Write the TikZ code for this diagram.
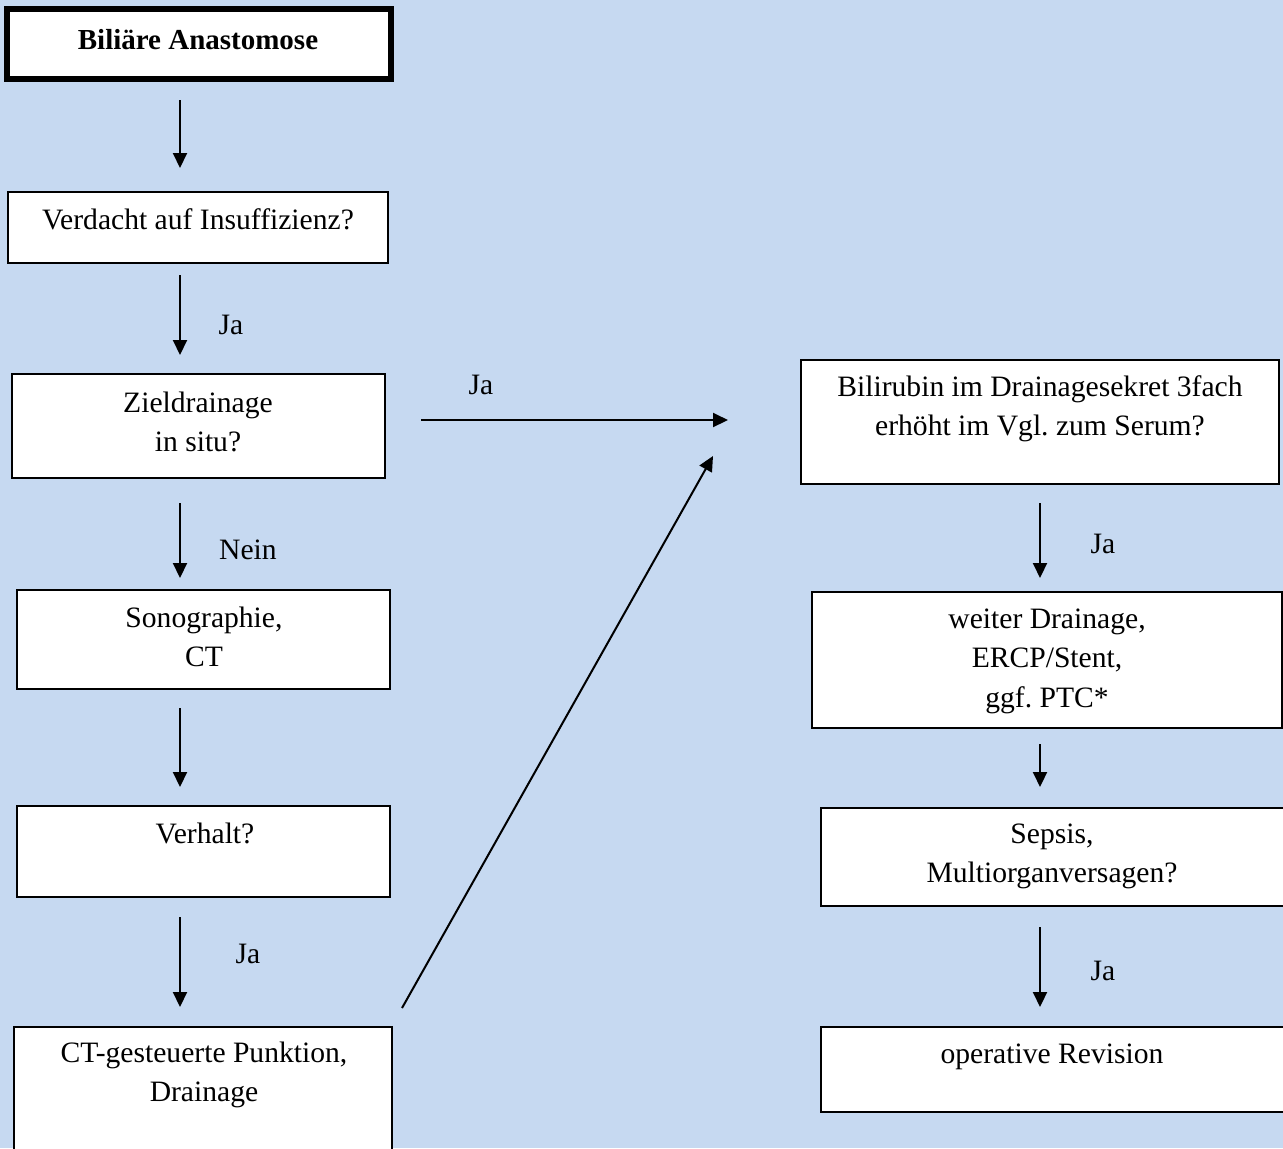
\documentclass[tikz,border=0pt]{standalone}
\usepackage{fontspec}
\setmainfont{Liberation Serif}
\usetikzlibrary{arrows.meta,fit}
\definecolor{bgblue}{RGB}{198,217,241}
\frenchspacing
\begin{document}
\begin{tikzpicture}[x=0.5pt,y=-0.5pt,
  box/.style={draw=black,fill=white,line width=0.9pt,inner sep=0pt,outer sep=0pt},
  thickbox/.style={box,line width=3pt},
  txt/.style={anchor=base,inner sep=0pt,font=\fontsize{14.8pt}{19.75pt}\selectfont\frenchspacing},
  lbl/.style={anchor=base,inner sep=0pt,font=\fontsize{14.8pt}{19.75pt}\selectfont},
  arr/.style={line width=1pt,-{Triangle[length=7.5pt,width=7pt]}}]
\useasboundingbox (0,0) rectangle (1283,1148);
\clip (0,0) rectangle (1283,1148);
\fill[bgblue] (0,0) rectangle (1283,1148);
% boxes
\node[thickbox,fit={(7,9) (390.5,79)}] (b1) {};
\node[box,fit={(8,192) (388,263)}] (b2) {};
\node[box,fit={(12,374) (385,478)}] (b3) {};
\node[box,fit={(17,590) (390,689)}] (b4) {};
\node[box,fit={(17,806) (390,897)}] (b5) {};
\node[box,fit={(14,1027) (392,1180)}] (b6) {};
\node[box,fit={(801,360) (1279,484)}] (b7) {};
\node[box,fit={(812,592) (1282,728)}] (b8) {};
\node[box,fit={(821,808) (1286,906)}] (b9) {};
\node[box,fit={(821,1027) (1286,1112)}] (b10) {};
% texts
\node[txt,font=\fontsize{14.5pt}{19.75pt}\selectfont] (t1) at (198,49) {\bfseries Biliäre Anastomose};
\node[txt] (t2) at (198,229) {Verdacht auf Insuffizienz?};
\node[txt] (t3) at (198,412) {\parbox[t]{240pt}{\centering Zieldrainage\\in situ?}};
\node[txt] (t4) at (204,627) {\parbox[t]{240pt}{\centering Sonographie,\\CT}};
\node[txt] (t5) at (205,843) {Verhalt?};
\node[txt] (t6) at (204,1062) {\parbox[t]{240pt}{\centering CT-gesteuerte Punktion,\\Drainage}};
\node[txt] (t7) at (1040,396) {\parbox[t]{300pt}{\centering Bilirubin im Drainagesekret 3fach\\erhöht im Vgl. zum Serum?}};
\node[txt] (t8) at (1047,628) {\parbox[t]{300pt}{\centering weiter Drainage,\\ERCP/Stent,\\ggf. PTC*}};
\node[txt] (t9) at (1052,843) {\parbox[t]{300pt}{\centering Sepsis,\\Multiorganversagen?}};
\node[txt] (t10) at (1052,1063) {operative Revision};
% arrow end points
\coordinate (a1s) at (180,100);  \coordinate (a1e) at (180,168);
\coordinate (a2s) at (180,275);  \coordinate (a2e) at (180,355);
\coordinate (a3s) at (180,503);  \coordinate (a3e) at (180,578);
\coordinate (a4s) at (180,708);  \coordinate (a4e) at (180,787);
\coordinate (a5s) at (180,917);  \coordinate (a5e) at (180,1007);
\coordinate (hs) at (421,420);   \coordinate (he) at (728,420);
\coordinate (ds) at (402,1008);  \coordinate (de) at (713,456);
\coordinate (r1s) at (1040,503); \coordinate (r1e) at (1040,578);
\coordinate (r2s) at (1040,744); \coordinate (r2e) at (1040,787);
\coordinate (r3s) at (1040,927); \coordinate (r3e) at (1040,1007);
\draw[arr] (a1s) -- (a1e);
\draw[arr] (a2s) -- (a2e);
\draw[arr] (a3s) -- (a3e);
\draw[arr] (a4s) -- (a4e);
\draw[arr] (a5s) -- (a5e);
\draw[arr] (hs) -- (he);
\draw[arr] (ds) -- (de);
\draw[arr] (r1s) -- (r1e);
\draw[arr] (r2s) -- (r2e);
\draw[arr] (r3s) -- (r3e);
% labels
\node[lbl] (l1) at (231,334) {Ja};
\node[lbl] (l2) at (248,559) {Nein};
\node[lbl] (l3) at (248,963) {Ja};
\node[lbl] (l4) at (481,394) {Ja};
\node[lbl] (l5) at (1103,553) {Ja};
\node[lbl] (l6) at (1103,980) {Ja};
\end{tikzpicture}
\end{document}
